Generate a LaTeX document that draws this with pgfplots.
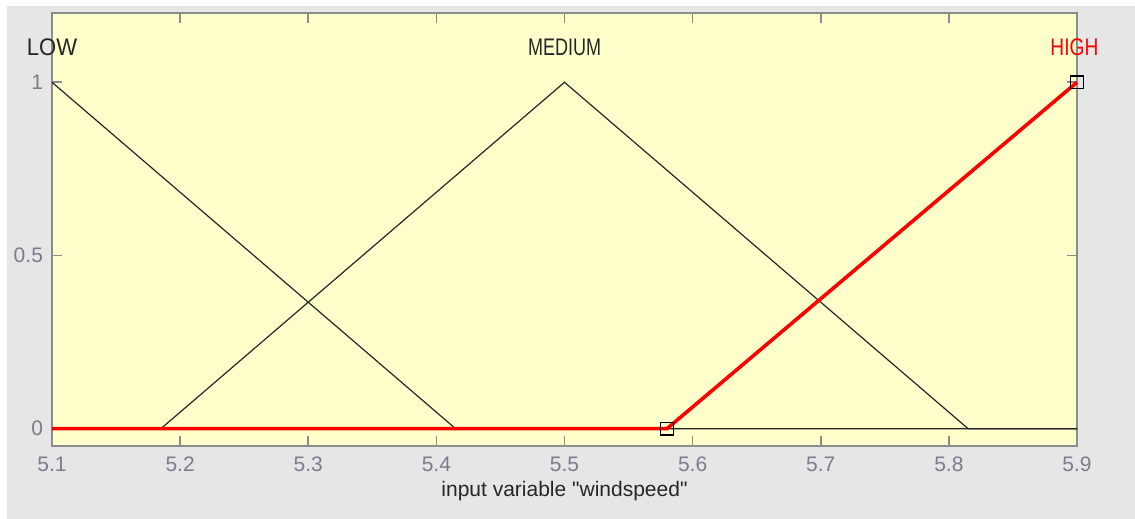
\documentclass[border=0pt]{standalone}
\usepackage{pgfplots}
\pgfplotsset{compat=1.18}
\usepackage{graphicx}
\usepackage{fontspec}
\setmainfont{Liberation Sans}
\newfontfamily\plainfont{Liberation Sans}
\definecolor{bggray}{HTML}{E6E6E6}
\definecolor{axfill}{HTML}{FFFFCC}
\definecolor{frame}{HTML}{8C8C8C}
\definecolor{ticklab}{HTML}{7C7C8C}
\begin{document}
\begin{tikzpicture}[x=0.5pt,y=0.5pt]
\fill[white] (0,0) rectangle (1135,519);
\fill[bggray] (7,-30) rectangle (1165,513);
\begin{axis}[
  at={(26pt,36.5pt)}, anchor=south west,
  scale only axis, width=512.5pt, height=216.5pt,
  xmin=5.1, xmax=5.9, ymin=-0.05, ymax=1.2,
  xtick={5.1,5.2,...,5.9}, ytick={0,0.5,1},
  xticklabels={5.1,5.2,5.3,5.4,5.5,5.6,5.7,5.8,5.9},
  yticklabels={0,0.5,1},
  tick align=inside, major tick length=5pt,
  tick style={frame, line width=0.8pt},
  axis line style={frame, line width=1pt},
  axis background/.style={fill=axfill},
  ticklabel style={font=\fontsize{10.5}{12}\selectfont, text=ticklab},
  xticklabel style={yshift=-2pt},
  yticklabel style={xshift=-1pt},
  xlabel={\plainfont input variable "windspeed"},
  xlabel style={font=\fontsize{10.5}{12}\selectfont, text=black!85, yshift=2pt},
  clip=false,
]
\addplot[black!85, line width=0.6pt] coordinates {(5.1,1) (5.415,0) (5.9,0)};
\addplot[black!85, line width=0.6pt] coordinates {(5.1,0) (5.185,0) (5.5,1) (5.815,0) (5.9,0)};
\addplot[red, line width=1.8pt] coordinates {(5.1,0) (5.58,0) (5.9,1)};
\addplot[only marks, mark=square, mark size=3.2pt, mark options={black, line width=0.7pt}] coordinates {(5.58,0) (5.9,1)};
\node[font=\fontsize{12}{13}\selectfont, text=black!85] at (axis cs:5.1,1.101) {\scalebox{0.92}[1]{LOW}};
\node[font=\fontsize{12}{13}\selectfont, text=black!85] at (axis cs:5.5,1.101) {\scalebox{0.75}[1]{MEDIUM}};
\node[font=\fontsize{12}{13}\selectfont, text=red] at (axis cs:5.898,1.101) {\scalebox{0.8}[1]{HIGH}};
\end{axis}
\pgfresetboundingbox
\path[use as bounding box] (0,0) rectangle (1135,519);
\end{tikzpicture}
\end{document}
